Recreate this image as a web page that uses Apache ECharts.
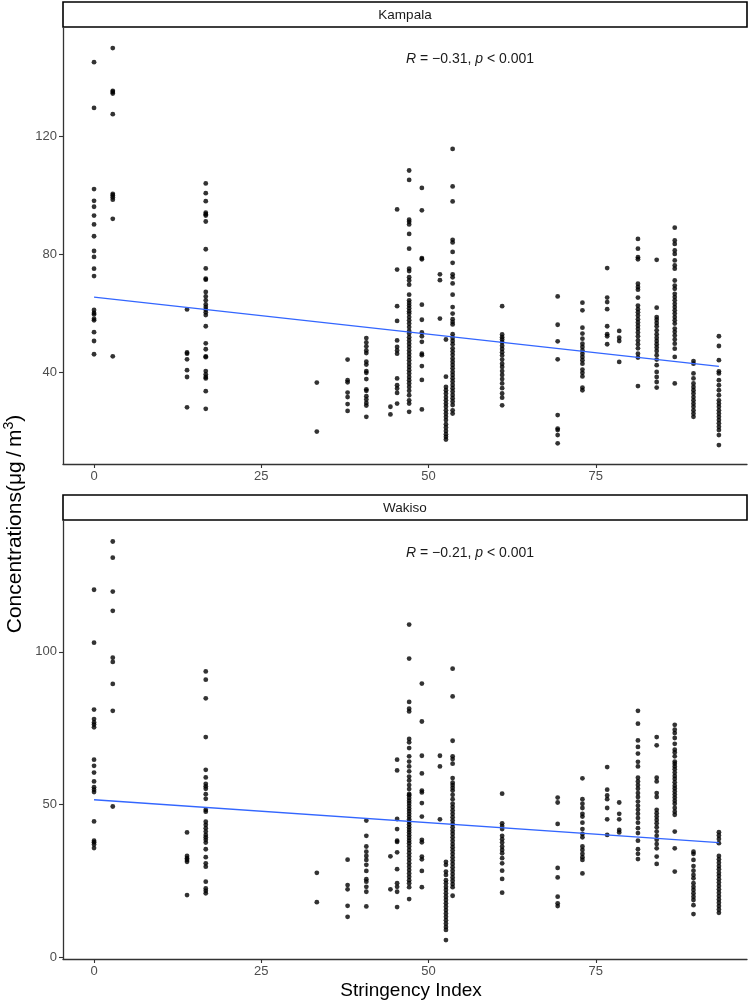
<!DOCTYPE html>
<html>
<head>
<meta charset="utf-8">
<script src="https://cdn.jsdelivr.net/npm/echarts@6/dist/echarts.min.js"></script>
<style>
html,body{margin:0;padding:0;background:#fff;}
#chart{width:749px;height:1003px;}
</style>
</head>
<body>
<div id="chart"></div>
<script>
// Stringency index values (x columns)
const stringency = [0, 2.8, 13.9, 16.7, 33.3, 37.9, 40.7, 44.3, 45.3, 47.1, 49.0, 51.7, 52.6, 53.6, 61.0, 69.3, 73.0, 76.7, 78.5, 81.3, 84.1, 86.8, 89.6, 93.4];

// Kampala concentrations per stringency column
const kampala = [
  [145, 129.5, 102, 98, 96, 93, 90, 86, 81, 79, 75, 72.5, 61, 60, 59.5, 58, 57.5, 53.5, 50.5, 46],
  [149.8, 135.3, 134.9, 134.4, 127.4, 100.4, 99.9, 99.2, 98.4, 91.9, 45.3],
  [61.2, 46.6, 46.2, 44.3, 40.6, 38.3, 28.0],
  [103.9, 100.6, 97.9, 94.0, 93.5, 93.0, 91.0, 81.6, 75.1, 71.6, 71.3, 67.1, 65.6, 64.3, 62.9, 62.0, 61.1, 60.2, 59.3, 55.5, 49.7, 47.7, 45.3, 45.0, 40.3, 39.2, 38.3, 37.8, 33.5, 27.5],
  [36.4, 19.8],
  [44.2, 37.2, 36.5, 33.0, 31.5, 29.1, 26.8],
  [51.5, 50.0, 48.7, 47.3, 46.4, 43.5, 42.5, 40.3, 39.7, 37.6, 34.1, 33.6, 31.8, 30.7, 29.5, 28.6, 24.8],
  [28.2, 25.6],
  [95.1, 74.7, 62.3, 57.3, 50.7, 48.5, 47.3, 46.2, 37.8, 35.5, 34.4, 32.9, 29.3],
  [108.3, 105.1, 91.6, 90.9, 90.0, 86.8, 81.8, 75.0, 74.2, 72.1, 71.0, 69.6, 66.2, 64.3, 63.4, 62.5, 61.6, 60.6, 59.8, 58.6, 57.5, 56.4, 55.2, 53.9, 53.0, 51.8, 50.7, 49.6, 48.5, 47.3, 46.2, 45.1, 44.0, 42.8, 41.7, 40.6, 39.5, 38.3, 37.2, 36.1, 34.9, 33.6, 32.1, 30.4, 29.3, 26.5],
  [102.4, 94.8, 78.6, 78.2, 62.8, 57.7, 53.4, 52.1, 50.2, 46.2, 45.7, 42.0, 37.3, 27.3],
  [73.1, 71.1, 58.1],
  [51.0, 38.4, 34.9, 33.8, 32.7, 31.5, 30.4, 29.3, 28.2, 27.0, 25.9, 24.8, 23.7, 22.3, 21.2, 20.0, 18.9, 18.0, 17.1],
  [115.6, 102.9, 97.8, 84.8, 83.9, 80.7, 77.0, 73.1, 72.1, 70.0, 66.2, 62.0, 59.8, 57.9, 56.9, 56.1, 52.8, 51.6, 50.5, 49.4, 48.0, 46.9, 45.8, 44.6, 43.5, 42.4, 41.3, 40.1, 39.0, 37.9, 36.8, 35.6, 34.5, 33.4, 32.2, 31.1, 30.0, 28.8, 27.0, 25.9],
  [62.3, 52.7, 51.8, 51.0, 50.1, 48.9, 47.8, 46.7, 45.6, 44.2, 42.8, 41.7, 40.3, 39.0, 37.6, 36.1, 34.5, 32.7, 31.3, 28.7],
  [65.6, 56.0, 50.4, 44.3, 25.4, 20.8, 20.3, 18.6, 15.8],
  [63.5, 60.9, 55.0, 53.0, 51.3, 49.6, 48.5, 47.3, 46.2, 45.1, 44.0, 42.8, 40.8, 39.7, 38.5, 34.7, 33.8],
  [75.2, 65.2, 63.7, 61.3, 55.5, 52.8, 52.1, 49.4],
  [53.9, 51.6, 50.5, 43.4],
  [85.1, 81.8, 78.9, 78.2, 69.9, 68.8, 67.9, 65.2, 62.5, 61.3, 60.2, 59.1, 57.9, 56.8, 55.7, 54.6, 53.4, 52.1, 50.7, 49.4, 48.0, 46.2, 44.9, 35.2],
  [78.0, 61.8, 58.6, 57.7, 56.6, 55.5, 54.1, 52.8, 51.6, 50.5, 49.4, 48.3, 47.1, 45.7, 44.2, 42.3, 40.0, 38.3, 36.6, 34.7],
  [88.9, 84.6, 83.4, 81.2, 80.0, 77.8, 76.1, 75.0, 71.0, 69.3, 68.2, 66.5, 65.4, 64.3, 63.1, 62.0, 60.9, 59.8, 58.6, 57.5, 56.4, 54.7, 53.6, 52.4, 51.0, 49.6, 47.9, 45.1, 36.1],
  [43.7, 42.8, 39.5, 37.8, 36.1, 34.9, 33.8, 32.7, 31.5, 30.4, 29.3, 28.2, 27.0, 25.9, 24.8],
  [52.1, 48.8, 44.0, 40.2, 39.5, 37.2, 35.5, 33.8, 32.1, 30.4, 29.3, 28.2, 27.0, 25.9, 24.8, 23.7, 22.6, 21.4, 20.3, 18.6, 15.2]
];

// Wakiso concentrations per stringency column
const wakiso = [
  [120.3, 103.0, 81.1, 78.0, 76.9, 76.2, 75.3, 64.7, 62.7, 60.5, 57.6, 55.7, 54.9, 54.1, 44.5, 38.2, 37.7, 37.0, 35.8],
  [136.1, 130.8, 119.7, 113.4, 98.1, 96.7, 89.5, 80.7, 49.4],
  [40.9, 33.2, 32.5, 31.9, 31.3, 20.4],
  [93.6, 90.9, 84.8, 72.1, 61.4, 58.9, 56.8, 56.0, 55.2, 53.4, 51.9, 48.3, 47.7, 44.4, 43.4, 42.3, 41.2, 40.1, 39.3, 38.5, 37.6, 35.4, 32.8, 30.8, 29.7, 24.8, 22.6, 21.8, 21.0],
  [27.7, 18.1],
  [32.0, 23.7, 22.3, 16.9, 13.3],
  [44.8, 39.8, 36.3, 34.6, 33.2, 31.9, 30.3, 28.3, 25.6, 24.8, 23.1, 21.5, 16.7],
  [33.1, 22.3],
  [64.7, 61.2, 45.3, 42.0, 38.2, 37.8, 34.4, 28.9, 24.3, 23.1, 21.5, 16.5],
  [108.9, 97.8, 83.6, 81.4, 80.5, 71.5, 70.4, 68.5, 65.8, 64.1, 62.5, 60.9, 59.2, 57.9, 56.4, 55.1, 53.5, 53.1, 52.2, 51.3, 50.5, 49.6, 48.7, 47.9, 47.0, 46.1, 45.2, 44.4, 43.5, 42.6, 41.7, 40.9, 40.0, 39.1, 38.2, 37.4, 36.3, 35.2, 34.1, 33.0, 31.9, 30.8, 29.7, 28.6, 27.5, 26.4, 25.3, 24.3, 23.0, 19.1],
  [89.6, 77.2, 66.0, 60.2, 54.6, 54.0, 50.5, 46.1, 38.5, 37.7, 33.0, 32.1, 28.3, 23.0],
  [66.0, 62.5, 45.2],
  [31.3, 30.3, 28.1, 27.0, 25.3, 24.3, 23.1, 22.1, 21.0, 19.9, 18.8, 17.7, 16.6, 15.5, 14.4, 13.3, 12.2, 11.1, 10.0, 9.0, 5.7],
  [94.5, 85.4, 70.9, 65.8, 64.9, 63.4, 58.7, 57.2, 56.4, 55.5, 54.6, 53.2, 51.8, 50.3, 49.2, 48.1, 47.0, 45.9, 44.8, 43.7, 42.6, 41.5, 40.4, 39.3, 38.2, 37.1, 36.1, 35.0, 33.9, 32.8, 31.7, 30.6, 29.5, 28.4, 27.3, 26.2, 25.1, 24.0, 23.0, 20.2],
  [53.6, 43.9, 43.0, 42.0, 39.8, 38.7, 37.6, 36.3, 35.2, 34.1, 32.5, 30.8, 28.4, 25.7, 21.2],
  [52.3, 50.7, 43.7, 29.3, 26.2, 19.9, 17.7, 16.8],
  [58.6, 51.8, 50.3, 48.9, 47.0, 46.1, 44.1, 42.0, 40.4, 39.3, 36.3, 35.2, 33.9, 32.8, 31.9, 27.5],
  [62.3, 54.9, 53.0, 51.8, 48.9, 45.2, 40.1],
  [50.7, 47.0, 45.2, 41.7, 40.9],
  [80.7, 76.5, 71.0, 68.9, 66.7, 64.0, 62.5, 58.8, 57.6, 56.4, 55.2, 53.8, 52.5, 51.0, 49.6, 48.3, 47.0, 45.6, 44.1, 42.3, 40.7, 38.2, 35.4, 33.9, 32.2],
  [72.1, 69.4, 58.8, 57.6, 53.8, 52.5, 48.3, 47.2, 46.1, 45.0, 43.9, 42.6, 41.2, 39.8, 38.5, 37.1, 35.7, 33.0, 30.6],
  [76.1, 74.5, 73.4, 71.8, 69.9, 68.0, 67.1, 65.8, 64.1, 63.4, 62.5, 61.6, 60.5, 59.4, 58.4, 57.3, 56.2, 55.3, 54.3, 53.3, 52.3, 51.3, 50.3, 48.9, 47.7, 46.7, 41.2, 35.7, 28.1],
  [34.6, 33.9, 31.9, 29.9, 28.4, 27.0, 25.9, 24.3, 23.1, 22.1, 21.0, 19.9, 18.8, 17.1, 14.2],
  [41.0, 39.9, 38.8, 37.4, 33.2, 32.1, 31.0, 29.9, 28.9, 27.7, 26.7, 25.6, 24.5, 23.4, 22.3, 21.2, 20.1, 19.0, 17.9, 16.8, 15.7, 14.6]
];

// Fitted regression line endpoints
const kampalaTrend = [[0, 65.4], [93.4, 41.9]];
const wakisoTrend = [[0, 51.6], [93.4, 37.6]];

// Panel titles and annotations
const panelNames = ['Kampala', 'Wakiso'];
const rValues = ['−0.31', '−0.21'];
const pText = '< 0.001';

// Tick labels
const xTicks = [0, 25, 50, 75];
const kampalaTicks = [40, 80, 120];
const wakisoTicks = [0, 50, 100];

function flatten(cols) {
  const out = [];
  cols.forEach((vals, i) => vals.forEach(v => out.push([stringency[i], v])));
  return out;
}

const FONT = '"Liberation Sans", Arial, Helvetica, sans-serif';
const chart = echarts.init(document.getElementById('chart'), null, {renderer: 'canvas'});

function xAxisDef(gridIndex) {
  return {
    type: 'value', gridIndex: gridIndex, min: -4.64, max: 97.6,
    splitLine: {show: false},
    axisLine: {show: true, onZero: false, lineStyle: {color: '#333', width: 1.3}},
    axisTick: {show: true, length: 4, inside: false, customValues: xTicks, lineStyle: {color: '#333', width: 1.1}},
    axisLabel: {show: true, customValues: xTicks, color: '#4d4d4d', fontSize: 13, fontFamily: FONT, margin: 6}
  };
}
function yAxisDef(gridIndex, min, max, ticks) {
  return {
    type: 'value', gridIndex: gridIndex, min: min, max: max,
    splitLine: {show: false},
    axisLine: {show: true, onZero: false, lineStyle: {color: '#333', width: 1.3}},
    axisTick: {show: true, length: 4, inside: false, customValues: ticks, lineStyle: {color: '#333', width: 1.1}},
    axisLabel: {show: true, customValues: ticks, color: '#4d4d4d', fontSize: 13, fontFamily: FONT, margin: 6}
  };
}

const pointStyle = {color: '#000'};
const lineStyle = {color: '#3366FF', width: 1.3};

function annotation(idx, y) {
  return {
    type: 'text', x: 406, y: y,
    style: {
      text: '{i|R} = ' + rValues[idx] + ', {i|p} ' + pText,
      font: '14px ' + FONT, fill: '#1a1a1a', textVerticalAlign: 'middle',
      rich: {i: {fontStyle: 'italic', fontSize: 14, fontFamily: FONT, fill: '#1a1a1a'}}
    }
  };
}

chart.setOption({
  animation: false,
  backgroundColor: '#fff',
  grid: [
    {left: 63, top: 28, width: 684, height: 436},
    {left: 63, top: 521, width: 684, height: 438}
  ],
  xAxis: [xAxisDef(0), xAxisDef(1)],
  yAxis: [
    yAxisDef(0, 8.8, 156.6, kampalaTicks),
    yAxisDef(1, -0.5, 142.8, wakisoTicks)
  ],
  series: [
    {type: 'scatter', xAxisIndex: 0, yAxisIndex: 0, data: flatten(kampala), symbolSize: 4.8, itemStyle: pointStyle, silent: true},
    {type: 'line', xAxisIndex: 0, yAxisIndex: 0, data: kampalaTrend, showSymbol: false, lineStyle: lineStyle, silent: true},
    {type: 'scatter', xAxisIndex: 1, yAxisIndex: 1, data: flatten(wakiso), symbolSize: 4.8, itemStyle: pointStyle, silent: true},
    {type: 'line', xAxisIndex: 1, yAxisIndex: 1, data: wakisoTrend, showSymbol: false, lineStyle: lineStyle, silent: true}
  ],
  graphic: [
    {type: 'rect', shape: {x: 63, y: 2, width: 684, height: 25}, style: {fill: '#fff', stroke: '#000', lineWidth: 1.6}},
    {type: 'text', x: 405, y: 15, style: {text: panelNames[0], font: '13.5px ' + FONT, fill: '#1a1a1a', textAlign: 'center', textVerticalAlign: 'middle'}},
    {type: 'rect', shape: {x: 63, y: 495, width: 684, height: 25}, style: {fill: '#fff', stroke: '#000', lineWidth: 1.6}},
    {type: 'text', x: 405, y: 508, style: {text: panelNames[1], font: '13.5px ' + FONT, fill: '#1a1a1a', textAlign: 'center', textVerticalAlign: 'middle'}},
    annotation(0, 59),
    annotation(1, 553),
    {type: 'text', x: 411, y: 991, style: {text: 'Stringency Index', font: '19px ' + FONT, fill: '#000', textAlign: 'center', textVerticalAlign: 'middle'}},
    {type: 'text', x: 15, y: 524, rotation: Math.PI / 2,
      style: {text: 'Concentrations(μg\u2009/\u2009m{s|3})', font: '21px ' + FONT, fill: '#000', textAlign: 'center', textVerticalAlign: 'middle',
        rich: {s: {fontSize: 14, fontFamily: FONT, verticalAlign: 'top', padding: [0, 0, 11, 0], fill: '#000'}}}}
  ]
});
</script>
</body>
</html>
